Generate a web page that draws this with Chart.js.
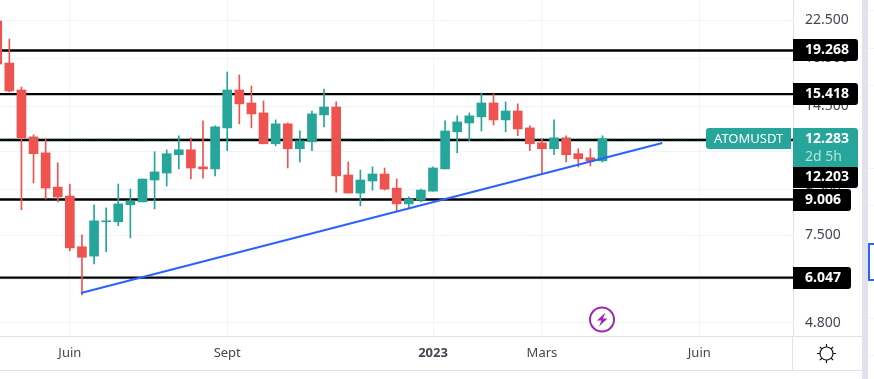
<!DOCTYPE html>
<html>
<head>
<meta charset="utf-8">
<title>ATOMUSDT</title>
<script src="https://cdn.jsdelivr.net/npm/chart.js@4/dist/chart.umd.min.js"></script>
<style>
    html, body { margin: 0; padding: 0; background: #fff; overflow: hidden; }
    #wrap { position: relative; width: 874px; height: 379px; }
    #chart { position: absolute; left: 0; top: 0; }
    #frame { position: absolute; left: 0; top: 0; pointer-events: none; }
</style>
</head>
<body>
<div id="wrap">
    <canvas id="chart" width="874" height="379"></canvas>
    <svg id="frame" width="874" height="379" xmlns="http://www.w3.org/2000/svg">
        <!-- axis frame around the time scale -->
        <path d="M0 336.5H862M0 370.5H862M792.5 336V370" stroke="#e0e3eb" stroke-width="1" fill="none"/>
        <!-- splitter and the edge of the next pane -->
        <rect x="862" y="0" width="6" height="379" fill="#e0e3eb"/>
        <path d="M868 10.5H874M868 48.5H874M868 85.5H874M868 168.5H874M868 205.5H874M868 318.5H874M868 355.5H874" stroke="#f0f3fa" fill="none"/>
        <path d="M874 244H869V280H874" stroke="#2962ff" stroke-width="2" fill="none"/>
        <!-- bolt badge -->
        <circle cx="602" cy="319.5" r="12" stroke="#9c27b0" stroke-width="2" fill="#fff"/>
        <path d="M605.5 312.5L597 320.5H601.5L599 326.5L607.5 318.5H603Z" fill="#9c27b0"/>
        <!-- theme button -->
        <g stroke="#131722" stroke-width="1.2" fill="none">
            <circle cx="826.5" cy="353.5" r="6.5"/>
            <path d="M826.5 344V347M826.5 360V363M817 353.5H820M833 353.5H836M819.8 346.8L822 349M831 358L833.2 360.2M833.2 346.8L831 349M822 358L819.8 360.2"/>
        </g>
    </svg>
</div>
<script>
// Weekly-ish candles, first one is cut by the left edge
const opens  = [22.39, 18.07, 15.75, 12.40, 11.43, 9.60, 9.17, 7.08, 6.75, 8.04, 8.04, 8.77, 8.90, 9.95, 10.31, 11.32, 11.61, 10.64, 10.53, 12.98, 15.75, 14.74, 14.01, 11.97, 13.25, 11.67, 12.09, 13.87, 14.44, 10.21, 9.31, 9.90, 10.26, 9.55, 8.81, 8.99, 9.40, 10.53, 12.72, 13.31, 13.73, 14.74, 13.52, 14.15, 12.98, 12.03, 11.67, 12.34, 11.38, 11.15, 10.97];
const highs  = [22.39, 20.42, 15.99, 12.53, 12.27, 10.86, 9.75, 7.52, 8.77, 8.63, 9.75, 9.50, 10.00, 11.49, 11.61, 12.47, 12.34, 13.45, 13.11, 17.26, 17.00, 16.07, 14.89, 13.52, 13.31, 12.78, 14.15, 15.83, 14.82, 10.91, 10.47, 10.64, 10.58, 10.00, 9.13, 9.50, 10.64, 13.45, 13.80, 14.01, 15.51, 15.43, 14.82, 14.67, 13.11, 12.27, 13.52, 12.47, 11.67, 11.67, 12.47];
const lows   = [17.98, 15.59, 8.55, 9.80, 9.03, 8.90, 6.93, 5.54, 6.49, 6.90, 7.88, 7.41, 8.90, 8.59, 9.65, 10.53, 10.00, 10.05, 10.16, 11.55, 13.25, 12.98, 11.97, 11.85, 10.58, 10.91, 11.55, 13.05, 9.35, 9.31, 8.72, 9.45, 9.45, 8.46, 8.59, 8.90, 9.40, 10.53, 11.43, 12.15, 12.78, 13.18, 12.72, 12.47, 11.55, 10.31, 11.32, 10.91, 10.64, 10.69, 10.91];
const closes = [17.98, 15.67, 12.34, 11.38, 9.55, 9.13, 7.04, 6.71, 8.08, 8.08, 8.81, 8.94, 10.00, 10.37, 11.38, 11.61, 10.58, 10.53, 13.05, 15.75, 14.67, 13.94, 11.97, 13.25, 11.67, 12.15, 13.94, 14.44, 10.16, 9.31, 9.95, 10.26, 9.50, 8.81, 9.03, 9.45, 10.58, 12.78, 13.38, 13.80, 14.74, 13.52, 14.15, 12.91, 11.97, 11.67, 12.34, 11.32, 11.09, 10.97, 12.283];

// Horizontal levels drawn on the chart
const levels = [19.268, 15.418, 12.203, 9.006, 6.047];
const lastPrice = 12.283;

// Rising trend line, two anchors in candle index / price
const trendX = [6.92, 54.94];
const trendY = [5.59, 12.02];

// Axis ticks
const priceTicks = [22.5, 18.5, 14.5, 11.5, 9.5, 7.5, 6.0, 4.8];
const timeTicks = [6, 19, 36, 45, 58];
const timeLabels = ['Juin', 'Sept', '2023', 'Mars', 'Juin'];

const UP = '#26a69a';
const DOWN = '#ef5350';
const FONT = '"Noto Sans", sans-serif';
const X_MIN = 0.229;
const X_MAX = 65.74;

const candleColors = opens.map((o, i) => closes[i] >= o ? UP : DOWN);

// Level lines and the price line span the whole plot
function hLine(value) {
    return [{ x: X_MIN, y: value }, { x: X_MAX, y: value }];
}

const levelSets = levels.map(value => ({
    type: 'line',
    data: hLine(value),
    borderColor: '#000',
    borderWidth: 2.4,
    pointRadius: 0,
    order: 5
}));

// Price tags on the right side, drawn over the axis
const priceTags = {
    id: 'priceTags',
    afterDraw(chart) {
        const ctx = chart.ctx;
        const yScale = chart.scales.y;
        const left = chart.chartArea.right;

        function tag(x, y, w, h, color, radii) {
            ctx.fillStyle = color;
            ctx.beginPath();
            ctx.roundRect(x, y, w, h, radii);
            ctx.fill();
        }
        function label(text, x, y, color, font) {
            ctx.fillStyle = color;
            ctx.font = font + 'px ' + FONT;
            ctx.textBaseline = 'middle';
            ctx.textAlign = 'left';
            ctx.fillText(text, x, y);
        }

        ctx.save();
        const lastY = Math.round(yScale.getPixelForValue(lastPrice));

        levels.forEach(value => {
            let mid = Math.round(yScale.getPixelForValue(value));
            // the 12.203 tag collides with the last price tag, it gets pushed below
            if (value === 12.203) mid = lastY + 38;
            const wide = value >= 10;
            tag(left, mid - 11, wide ? 65 : 58, 22, '#000', [0, 3, 3, 0]);
            label(value.toFixed(3), left + 12, mid, '#fff', 'bold 14');
        });

        tag(left, lastY - 11, 65, 39, UP, [0, 3, 0, 0]);
        label(lastPrice.toFixed(3), left + 12, lastY, '#fff', 'bold 14');
        label('2d 5h', left + 12, lastY + 18, '#b5e0da', 'normal 14');

        tag(left - 87, lastY - 11, 85, 21, UP, [3, 0, 0, 3]);
        label('ATOMUSDT', left - 79, lastY, '#fff', 'normal 13');
        ctx.restore();
    }
};

new Chart(document.getElementById('chart'), {
    data: {
        datasets: [
            ...levelSets,
            {
                // wicks
                type: 'bar',
                data: highs.map((h, i) => ({ x: i, y: [lows[i], h] })),
                backgroundColor: candleColors,
                barThickness: 1,
                grouped: false,
                order: 3
            },
            {
                // bodies
                type: 'bar',
                data: opens.map((o, i) => ({ x: i, y: [o, closes[i]] })),
                backgroundColor: candleColors,
                barThickness: 9,
                minBarLength: 1,
                grouped: false,
                order: 2
            },
            {
                // last price, dotted
                type: 'line',
                data: hLine(lastPrice),
                borderColor: UP,
                borderWidth: 1,
                borderDash: [1, 2],
                pointRadius: 0,
                order: 1
            },
            {
                type: 'line',
                data: trendX.map((x, i) => ({ x: x, y: trendY[i] })),
                borderColor: '#2962ff',
                borderWidth: 2,
                pointRadius: 0,
                order: 0
            }
        ]
    },
    options: {
        responsive: false,
        animation: false,
        layout: { padding: 0 },
        plugins: {
            legend: { display: false },
            title: { display: false },
            tooltip: { enabled: false }
        },
        scales: {
            x: {
                type: 'linear',
                offset: false,
                min: X_MIN,
                max: X_MAX,
                afterBuildTicks: axis => { axis.ticks = timeTicks.map(v => ({ value: v })); },
                afterFit: axis => { axis.height = 43; axis.paddingLeft = 0; axis.paddingRight = 0; },
                grid: { color: '#f0f3fa', drawTicks: false, offset: false },
                border: { display: false },
                ticks: {
                    autoSkip: false,
                    maxRotation: 0,
                    padding: 9,
                    color: '#434651',
                    font: ctx => {
                        const bold = ctx.tick && ctx.tick.value === timeTicks[2];
                        return { family: FONT, size: 13, weight: bold ? 'bold' : 'normal' };
                    },
                    callback: value => timeLabels[timeTicks.indexOf(value)]
                }
            },
            y: {
                type: 'logarithmic',
                position: 'right',
                bounds: 'data',
                min: 4.491,
                max: 24.92,
                afterBuildTicks: axis => { axis.ticks = priceTicks.map(v => ({ value: v })); },
                afterFit: axis => { axis.width = 81; axis.paddingTop = 0; axis.paddingBottom = 0; },
                grid: { color: '#f0f3fa', drawTicks: false },
                border: { color: '#e0e3eb' },
                ticks: {
                    autoSkip: false,
                    padding: 12,
                    color: '#434651',
                    font: { family: FONT, size: 14 },
                    callback: value => Number(value).toFixed(3)
                }
            }
        }
    },
    plugins: [priceTags]
});
</script>
</body>
</html>
